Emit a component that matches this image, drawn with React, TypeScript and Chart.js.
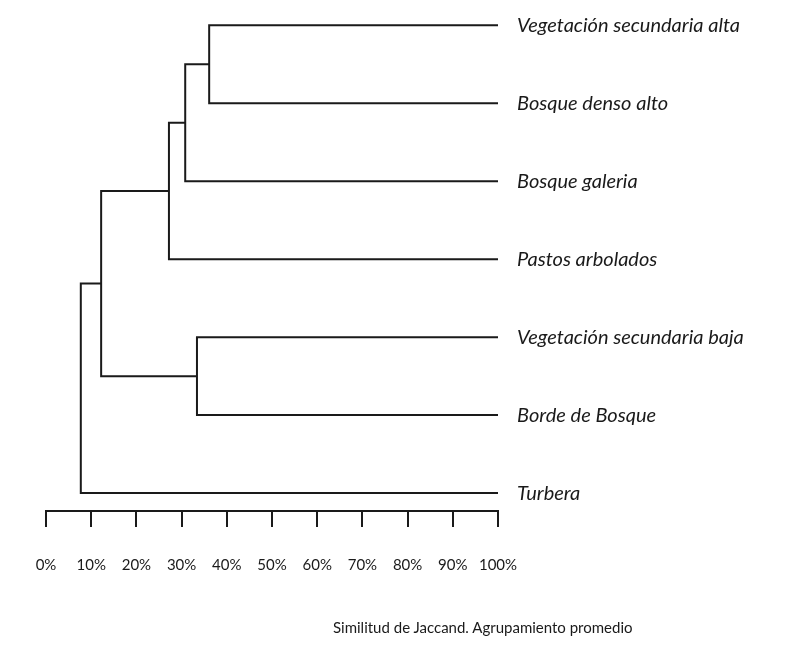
import { useEffect, useRef } from "react"
import { Chart, registerables } from "chart.js"

Chart.register(...registerables)

// leaves, top to bottom
const leaves = [
  "Vegetación secundaria alta",
  "Bosque denso alto",
  "Bosque galeria",
  "Pastos arbolados",
  "Vegetación secundaria baja",
  "Borde de Bosque",
  "Turbera",
]

// merges: child ids (0-6 leaves, 7+ earlier merges) and similarity (%)
const mergeA = [0, 7, 8, 4, 9, 11]
const mergeB = [1, 2, 3, 5, 10, 6]
const similarity = [36.1, 30.8, 27.2, 33.4, 12.2, 7.7]

const xTicks = [0, 10, 20, 30, 40, 50, 60, 70, 80, 90, 100]

const caption = "Similitud de Jaccand. Agrupamiento promedio"

function buildSegments() {
  const nodeX: number[] = leaves.map(() => 100)
  const nodeY: number[] = leaves.map((_, i) => i)
  return similarity.map((h, k) => {
    const a = mergeA[k]
    const b = mergeB[k]
    nodeX.push(h)
    nodeY.push((nodeY[a] + nodeY[b]) / 2)
    return [
      { x: nodeX[a], y: nodeY[a] },
      { x: h, y: nodeY[a] },
      { x: h, y: nodeY[b] },
      { x: nodeX[b], y: nodeY[b] },
    ]
  })
}

export default function App() {
  const chartRef = useRef<HTMLCanvasElement>(null)
  const chartInstance = useRef<Chart | null>(null)

  useEffect(() => {
    if (!chartRef.current) return
    if (chartInstance.current) chartInstance.current.destroy()
    const ctx = chartRef.current.getContext("2d")
    if (!ctx) return

    const ink = "#1a1a1a"

    chartInstance.current = new Chart(ctx, {
      type: "scatter",
      data: {
        datasets: buildSegments().map((pts) => ({
          data: pts,
          showLine: true,
          borderColor: ink,
          borderWidth: 2,
          pointRadius: 0,
          fill: false,
          tension: 0,
        })),
      },
      options: {
        animation: false,
        responsive: true,
        maintainAspectRatio: false,
        layout: { padding: { left: 46, top: 0, right: 0, bottom: 0 } },
        plugins: {
          legend: { display: false },
          tooltip: { enabled: false },
        },
        scales: {
          x: {
            type: "linear",
            min: 0,
            max: 100,
            afterBuildTicks: (scale: any) => {
              scale.ticks = xTicks.map((v) => ({ value: v }))
            },
            afterFit: (scale: any) => {
              scale.height = 141
            },
            grid: {
              drawOnChartArea: false,
              drawTicks: true,
              tickLength: 16,
              lineWidth: 2,
              color: ink,
            },
            border: { display: true, color: ink, width: 2 },
            ticks: {
              callback: (v: any) => v + "%",
              color: ink,
              padding: 29,
              maxRotation: 0,
              font: { family: "Lato", size: 15 },
            },
          },
          y: {
            type: "linear",
            position: "right",
            reverse: true,
            min: -0.03,
            max: 6.23,
            afterBuildTicks: (scale: any) => {
              scale.ticks = leaves.map((_, i) => ({ value: i }))
            },
            afterFit: (scale: any) => {
              scale.width = 294
            },
            grid: { display: false },
            border: { display: false },
            ticks: {
              callback: (v: any) => leaves[v] ?? "",
              color: ink,
              padding: 11,
              font: { family: "Lato", size: 20, style: "italic" },
            },
          },
        },
      },
    })

    return () => {
      if (chartInstance.current) chartInstance.current.destroy()
    }
  }, [])

  return (
    <div style={{ position: "absolute", left: 0, top: 0, width: 792, height: 652, background: "#fff" }}>
      <canvas ref={chartRef} />
      <div
        style={{
          position: "absolute",
          left: 333,
          top: 618,
          fontFamily: "Lato",
          fontSize: 15,
          color: "#1a1a1a",
          whiteSpace: "nowrap",
        }}
      >
        {caption}
      </div>
    </div>
  )
}
